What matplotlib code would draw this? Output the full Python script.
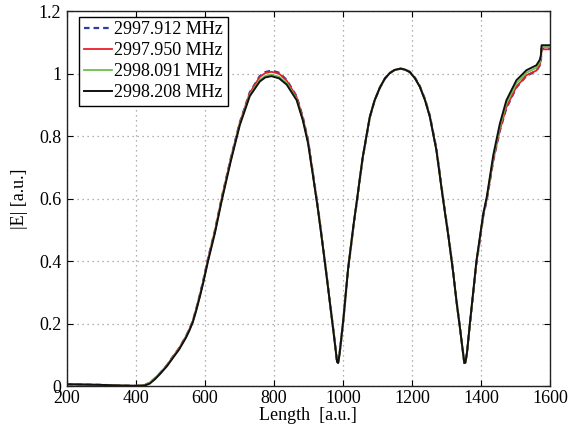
import numpy as np
import matplotlib
matplotlib.use('Agg')
import matplotlib.pyplot as plt

length = [200, 250, 300, 350, 400, 425, 440, 455, 470, 490,
          507, 525, 545, 555, 565, 575, 585, 595, 609, 629,
          649, 675, 701, 730, 759, 775, 793, 815, 837, 866,
          884, 899, 913, 928, 945, 962, 972, 978, 983, 986,
          990, 1001, 1015, 1030, 1040, 1057, 1078, 1092, 1107, 1122,
          1136, 1150, 1167, 1180, 1194, 1209, 1223, 1238, 1252, 1271,
          1290, 1307, 1320, 1330, 1340, 1347, 1352, 1355, 1360, 1368,
          1387, 1407, 1417, 1436, 1455, 1474, 1503, 1532, 1561, 1571,
          1574, 1576, 1600]

e_2997_912 = [0.006, 0.005, 0.004, 0.002, 0.001, 0.003, 0.011, 0.025, 0.042, 0.067,
              0.094, 0.121, 0.159, 0.182, 0.209, 0.248, 0.291, 0.337, 0.408, 0.498,
              0.604, 0.729, 0.843, 0.940, 0.992, 1.005, 1.010, 1.003, 0.980, 0.927,
              0.860, 0.786, 0.682, 0.568, 0.424, 0.272, 0.182, 0.126, 0.078, 0.074,
              0.100, 0.208, 0.372, 0.506, 0.586, 0.727, 0.860, 0.914, 0.955, 0.985,
              1.002, 1.012, 1.016, 1.014, 1.006, 0.987, 0.960, 0.918, 0.866, 0.760,
              0.605, 0.474, 0.363, 0.267, 0.181, 0.119, 0.074, 0.075, 0.108, 0.196,
              0.392, 0.545, 0.596, 0.723, 0.818, 0.890, 0.956, 0.993, 1.009, 1.027,
              1.044, 1.080, 1.080]

e_2997_950 = [0.006, 0.005, 0.004, 0.002, 0.001, 0.003, 0.011, 0.025, 0.042, 0.067,
              0.094, 0.121, 0.159, 0.182, 0.209, 0.247, 0.290, 0.336, 0.407, 0.497,
              0.603, 0.728, 0.842, 0.938, 0.990, 1.002, 1.006, 1.000, 0.978, 0.925,
              0.858, 0.785, 0.681, 0.567, 0.423, 0.272, 0.182, 0.126, 0.078, 0.074,
              0.100, 0.209, 0.373, 0.507, 0.587, 0.728, 0.861, 0.914, 0.955, 0.985,
              1.002, 1.012, 1.016, 1.013, 1.005, 0.986, 0.959, 0.917, 0.864, 0.758,
              0.603, 0.472, 0.362, 0.266, 0.181, 0.119, 0.074, 0.075, 0.109, 0.197,
              0.394, 0.547, 0.598, 0.725, 0.820, 0.893, 0.958, 0.995, 1.010, 1.028,
              1.045, 1.078, 1.078]

e_2998_091 = [0.006, 0.005, 0.004, 0.002, 0.001, 0.003, 0.011, 0.025, 0.041, 0.066,
              0.092, 0.119, 0.157, 0.180, 0.207, 0.245, 0.287, 0.333, 0.403, 0.493,
              0.599, 0.724, 0.838, 0.932, 0.980, 0.993, 0.997, 0.990, 0.970, 0.919,
              0.853, 0.780, 0.677, 0.565, 0.421, 0.271, 0.181, 0.125, 0.078, 0.074,
              0.100, 0.210, 0.374, 0.509, 0.589, 0.729, 0.862, 0.915, 0.955, 0.985,
              1.002, 1.012, 1.016, 1.013, 1.005, 0.985, 0.958, 0.916, 0.863, 0.756,
              0.601, 0.471, 0.361, 0.265, 0.180, 0.118, 0.074, 0.075, 0.110, 0.199,
              0.398, 0.550, 0.602, 0.732, 0.830, 0.905, 0.969, 1.003, 1.019, 1.037,
              1.052, 1.085, 1.085]

e_2998_208 = [0.006, 0.005, 0.004, 0.002, 0.001, 0.002, 0.008, 0.022, 0.039, 0.064,
              0.090, 0.117, 0.155, 0.178, 0.205, 0.243, 0.285, 0.330, 0.400, 0.490,
              0.595, 0.720, 0.835, 0.928, 0.975, 0.988, 0.992, 0.985, 0.965, 0.915,
              0.850, 0.777, 0.675, 0.563, 0.420, 0.270, 0.180, 0.125, 0.078, 0.074,
              0.100, 0.210, 0.375, 0.510, 0.590, 0.730, 0.862, 0.915, 0.955, 0.985,
              1.002, 1.012, 1.016, 1.013, 1.005, 0.985, 0.958, 0.915, 0.862, 0.755,
              0.600, 0.470, 0.360, 0.265, 0.180, 0.118, 0.074, 0.075, 0.110, 0.200,
              0.400, 0.553, 0.605, 0.740, 0.840, 0.915, 0.979, 1.011, 1.027, 1.045,
              1.060, 1.091, 1.091]

labels = ['2997.912 MHz', '2997.950 MHz', '2998.091 MHz', '2998.208 MHz']

xticks = [200, 400, 600, 800, 1000, 1200, 1400, 1600]
yticks = [0, 0.2, 0.4, 0.6, 0.8, 1.0, 1.2]
ytick_labels = ['0', '0.2', '0.4', '0.6', '0.8', '1', '1.2']

plt.rcParams['font.family'] = ['Liberation Serif', 'DejaVu Serif']
plt.rcParams['font.size'] = 13

fig = plt.figure(figsize=(5.77, 4.30), dpi=100)
ax = fig.add_axes([0.116, 0.102, 0.837, 0.872])

ax.plot(length, e_2997_912, color='#2b3f9e', lw=1.6, ls=(0, (2.5, 1.8)), label=labels[0])
ax.plot(length, e_2997_950, color='#e8202a', lw=1.3, label=labels[1])
ax.plot(length, e_2998_091, color='#6cc04a', lw=1.3, label=labels[2])
ax.plot(length, e_2998_208, color='#111111', lw=1.4, label=labels[3])

ax.set_xlim(200, 1600)
ax.set_ylim(0, 1.2)
ax.set_xticks(xticks)
ax.set_yticks(yticks)
ax.set_yticklabels(ytick_labels)

ax.grid(True, ls=(0, (1, 3)), color='#999999', lw=0.9)
ax.tick_params(direction='in', length=4, width=0.8, top=True, right=True)
ax.tick_params(axis='x', pad=3)
ax.tick_params(axis='y', pad=4)
for sp in ax.spines.values():
    sp.set_linewidth(1.0)
    sp.set_color('#222222')

ax.set_xlabel('Length  [a.u.]', labelpad=0)
ax.set_ylabel('|E| [a.u.]', labelpad=8)

leg = ax.legend(loc='upper left', bbox_to_anchor=(0.025, 0.985), borderaxespad=0,
                fontsize=13, handlelength=1.55, handletextpad=0.15,
                labelspacing=0.22, borderpad=0.25,
                fancybox=False, framealpha=1)
leg.get_frame().set_edgecolor('black')
leg.get_frame().set_linewidth(1.0)

fig.savefig('out.png', dpi=100)
